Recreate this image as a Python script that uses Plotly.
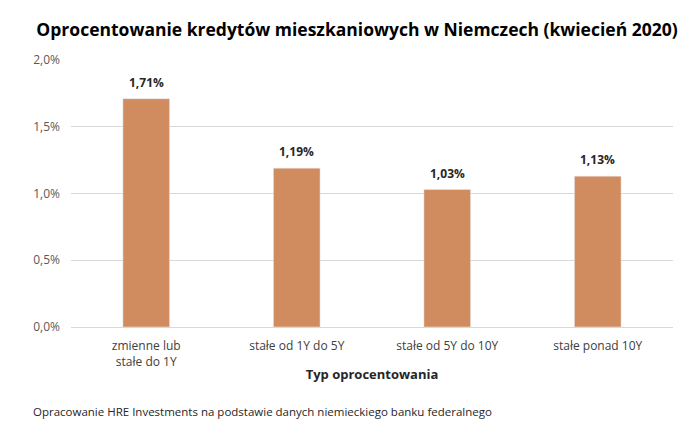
import plotly.graph_objects as go

categories = ["zmienne lub<br>stałe do 1Y", "stałe od 1Y do 5Y", "stałe od 5Y do 10Y", "stałe ponad 10Y"]
values = [1.71, 1.19, 1.03, 1.13]
y_ticks = [0.0, 0.5, 1.0, 1.5, 2.0]
y_tick_labels = ["0,0%", "0,5%", "1,0%", "1,5%", "2,0%"]
value_labels = ["1,71%", "1,19%", "1,03%", "1,13%"]

font_family = "Open Sans, Noto Sans, sans-serif"

fig = go.Figure(go.Bar(
    x=categories,
    y=values,
    marker=dict(color="#D08C5E"),
    width=0.31,
    hoverinfo="x+y",
))

for c, v, lab in zip(categories, values, value_labels):
    fig.add_annotation(
        x=c, y=v, text=f"<b>{lab}</b>", showarrow=False,
        yanchor="bottom", yshift=6,
        font=dict(family=font_family, size=12, color="#262626"),
    )

fig.update_layout(
    width=700, height=424,
    margin=dict(l=71, r=27, t=60, b=97, autoexpand=False),
    paper_bgcolor="white", plot_bgcolor="white",
    showlegend=False,
    title=dict(
        text="<b>Oprocentowanie kredytów mieszkaniowych w Niemczech (kwiecień 2020)</b>",
        x=0.51, xanchor="center", y=0.93, yanchor="middle",
        font=dict(family=font_family, size=17.5, color="#000000"),
    ),
    xaxis=dict(
        tickfont=dict(family=font_family, size=12, color="#404040"),
        showgrid=False, showline=True, linecolor="#D9D9D9",
        ticks="", ticklabelstandoff=8,
        title=dict(text="<b>Typ oprocentowania</b>", standoff=0,
                   font=dict(family=font_family, size=13, color="#262626")),
    ),
    yaxis=dict(
        range=[0, 2.0], tickvals=y_ticks, ticktext=y_tick_labels,
        tickfont=dict(family=font_family, size=12, color="#595959"),
        showgrid=True, gridcolor="#D9D9D9", zeroline=False, ticks="",
        ticklabelstandoff=10,
    ),
)
fig.add_annotation(
    text="Opracowanie HRE Investments na podstawie danych niemieckiego banku federalnego",
    xref="paper", yref="paper", x=-0.066, y=-0.315, xanchor="left", yanchor="middle",
    showarrow=False, font=dict(family=font_family, size=11.5, color="#262626"),
)

fig.write_html("out.html", config={"displayModeBar": False},
               post_script="document.body.style.margin='0';")
